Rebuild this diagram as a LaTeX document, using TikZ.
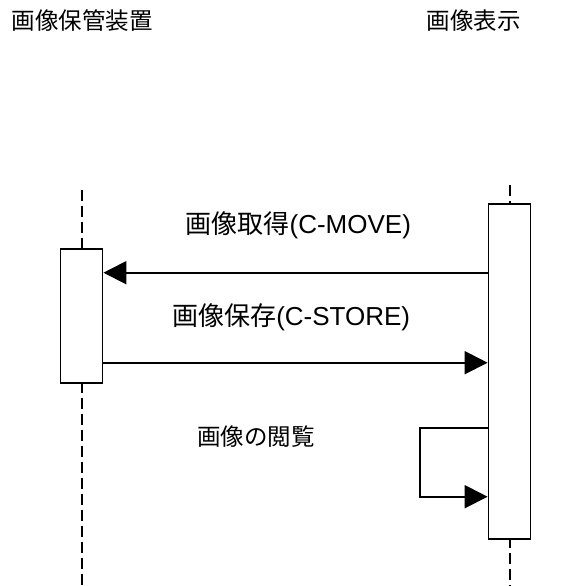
\documentclass[tikz,border=0pt]{standalone}
\usepackage{fontspec}
\setmainfont{Liberation Sans}
\newfontfamily\cjk{Noto Sans CJK JP}
\usetikzlibrary{arrows.meta}

\begin{document}
\begin{tikzpicture}[x=1pt, y=-1pt,
  title/.style={inner sep=0pt, font=\fontsize{23.5}{28}\selectfont},
  msglabel/.style={inner sep=0pt, font=\fontsize{26}{30}\selectfont},
  actbox/.style={draw, line width=1.8pt, fill=white, minimum width=42pt, inner sep=0pt},
  lifeline/.style={line width=2pt, dash pattern=on 11pt off 5pt},
  msg/.style={line width=2pt, -{Triangle[length=23pt, width=23pt]}}]
\useasboundingbox (0,0) rectangle (577,586);
\node[title] (storage) at (82.5,21) {\cjk 画像保管装置};
\node[title] (viewer) at (473.5,21) {\cjk 画像表示};
% lifelines
\coordinate (storetop) at (81.5,190);
\coordinate (storeend) at (81.5,586);
\coordinate (viewtop) at (510,185);
\coordinate (viewend) at (510,586);
\draw[lifeline] (storetop) -- (storeend);
\draw[lifeline] (viewtop) -- (viewend);
\node[actbox, minimum height=134pt] (storebox) at (81.5,316) {};
\node[actbox, minimum height=335pt] (viewbox) at (509.5,371.7) {};
% messages
\coordinate (getlevel) at (0,272.7);
\coordinate (savelevel) at (0,362.7);
\coordinate (looptop) at (0,428.3);
\coordinate (loopbot) at (0,496.7);
\draw[msg] (viewbox.west |- getlevel) -- (storebox.east |- getlevel);
\draw[msg] (storebox.east |- savelevel) -- (viewbox.west |- savelevel);
\draw[msg] (viewbox.west |- looptop) -- ++(-67.6,0) |- (viewbox.west |- loopbot);
\node[msglabel] (getlabel) at (298.3,225) {{\cjk 画像取得}(C-MOVE)};
\node[msglabel] (savelabel) at (291.2,317) {{\cjk 画像保存}(C-STORE)};
\node[title] (viewlabel) at (256,437) {\cjk 画像の閲覧};
\end{tikzpicture}
\end{document}
